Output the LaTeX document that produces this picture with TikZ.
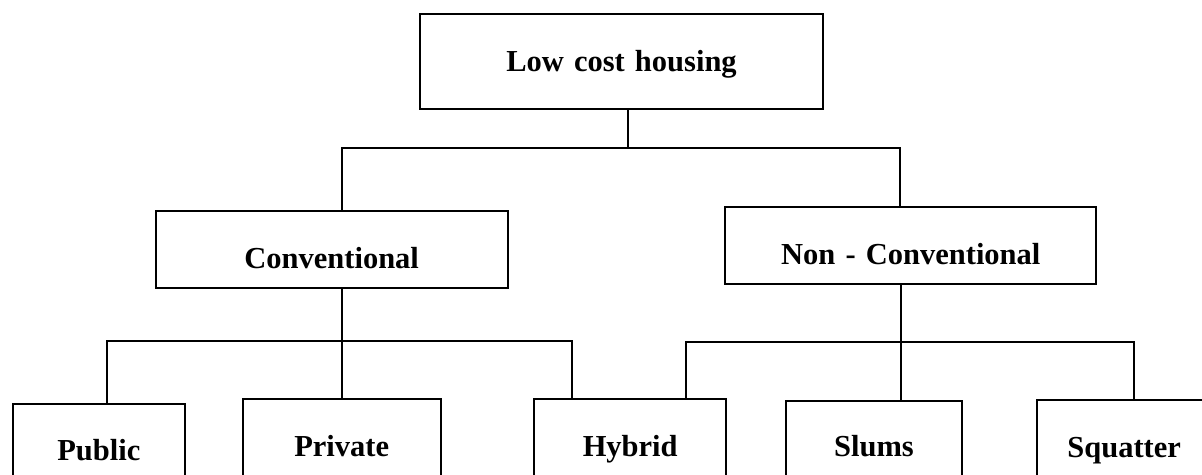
\documentclass[tikz,border=0pt]{standalone}
\usepackage{fontspec}
\setmainfont{Liberation Serif}
\begin{document}
\begin{tikzpicture}[x=1pt,y=-1pt,
  box/.style={draw=black, line width=2pt, rectangle, inner sep=0pt, align=center,
    font=\fontsize{30.5}{36}\selectfont\bfseries},
  link/.style={draw=black, line width=2pt, line join=miter}]
\clip (0,0) rectangle (1202,474);
\fill[white] (0,0) rectangle (1202,474);
% boxes: position = centre x, baseline y (anchor base)
\node[box, anchor=base, text width=403pt, text height=57pt, text depth=38.3pt] (top) at (621.5,71) {Low cost housing};
\node[box, anchor=base, text width=352pt, text height=57.3pt, text depth=20.3pt] (conv) at (331.7,268) {Conventional};
\node[box, anchor=base, text width=371pt, text height=57.5pt, text depth=20pt] (ncv) at (910.8,264) {Non - Conventional};
\node[box, anchor=base, text width=172.3pt, text height=56.7pt, text depth=60pt] (pub) at (98.85,460.7) {Public};
\node[box, anchor=base, text width=198pt, text height=57pt, text depth=60pt] (priv) at (341.7,456) {Private};
\node[box, anchor=base, text width=191.7pt, text height=56.7pt, text depth=60pt] (hyb) at (630.2,456) {Hybrid};
\node[box, anchor=base, text width=176.6pt, text height=55.3pt, text depth=60pt] (slu) at (874,456) {Slums};
\node[box, anchor=base, text width=174pt, text height=57pt, text depth=60pt] (squ) at (1124.2,457) {Squatter};
% junction coordinates
\coordinate (b1) at (628.3,148);
\coordinate (cA) at (342,148);
\coordinate (cB) at (900,148);
\coordinate (dA) at (107.3,341);
\coordinate (dC) at (342,341);
\coordinate (dB) at (571.7,341);
\coordinate (eA) at (686,342);
\coordinate (eC) at (900.7,342);
\coordinate (eB) at (1134.3,342);
% connectors
\draw[link] (top.south -| b1) -- (b1);
\draw[link] (conv.north -| cA) -- (cA) -- (cB) -- (ncv.north -| cB);
\draw[link] (conv.south -| dC) -- (dC);
\draw[link] (pub.north -| dA) -- (dA) -- (dB) -- (hyb.north -| dB);
\draw[link] (priv.north -| dC) -- (dC);
\draw[link] (ncv.south -| eC) -- (eC);
\draw[link] (hyb.north -| eA) -- (eA) -- (eB) -- (squ.north -| eB);
\draw[link] (slu.north -| eC) -- (eC);
\end{tikzpicture}
\end{document}
